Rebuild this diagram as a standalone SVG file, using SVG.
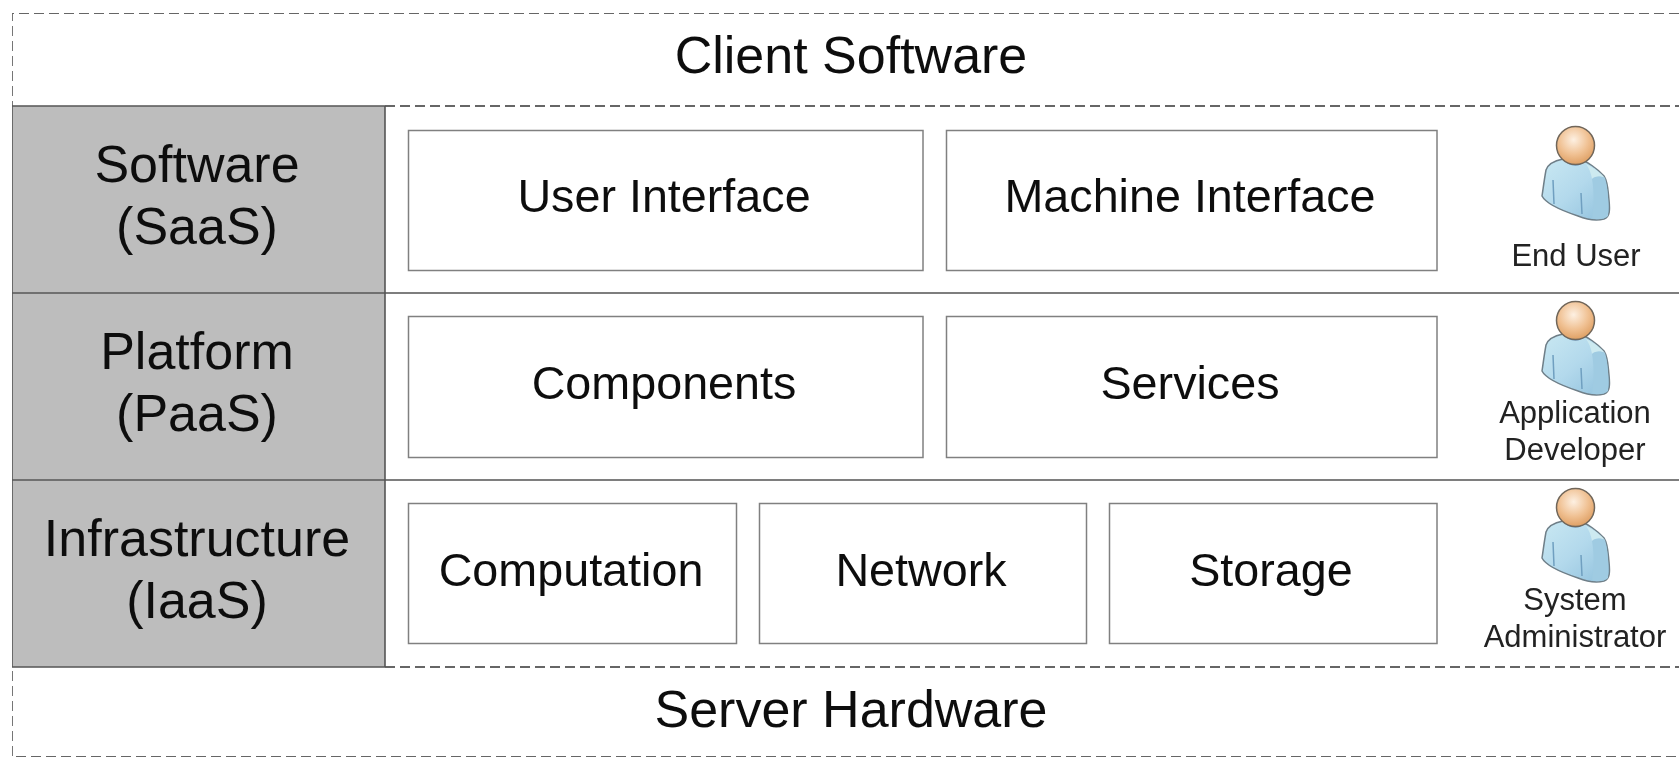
<svg xmlns="http://www.w3.org/2000/svg" width="1679" height="758" viewBox="0 0 1679 758">
<style>
text{font-family:"Liberation Sans",Arial,sans-serif;fill:#111;text-anchor:middle}
.h{font-size:52px}
.t{font-size:46.700px}
.s{font-size:31px;fill:#222}
.box{fill:#fff;stroke:#808080;stroke-width:1.5}
.dash{fill:none;stroke:#666;stroke-width:1.8;stroke-dasharray:10 5}
.line{fill:none;stroke:#555;stroke-width:1.6}
</style>
<defs>
<filter id="soft" x="0" y="0" width="1" height="1"><feGaussianBlur stdDeviation="0.7"/></filter>
<radialGradient id="head" cx="0.45" cy="0.35" r="0.7"><stop offset="0" stop-color="#fdf0e2"/><stop offset="0.55" stop-color="#f0c193"/><stop offset="1" stop-color="#dc9a5c"/></radialGradient>
<linearGradient id="body" x1="0" y1="0" x2="1" y2="1"><stop offset="0" stop-color="#c9e8f2"/><stop offset="0.5" stop-color="#b3d9ec"/><stop offset="1" stop-color="#8fc0dc"/></linearGradient>
<g id="person">
<path d="M1563 159C1553 161 1548 164 1546 170C1544 181 1543 190 1542 196C1546 204 1560 210 1578 216C1588 220 1596 221 1604 219C1610 217 1610 210 1609 200C1608 190 1608 182 1604 176C1597 168 1587 162 1582 160Z" fill="url(#body)" stroke="#6f7f88" stroke-width="1.5"/>
<path d="M1586 164C1594 168 1601 173 1605 178C1599 176 1596 176 1592 179C1591 173 1589 168 1586 164Z" fill="#cdeaf0"/>
<path d="M1592 179C1596 176 1600 176 1605 178C1608 188 1609 205 1608 216C1604 220 1596 220 1592 218C1594 205 1594 190 1592 179Z" fill="#9fcbe2"/>
<path d="M1553 180L1554 204M1581 193L1582 214" fill="none" stroke="#6f9fc0" stroke-width="1.5"/>
<path d="M1563 159C1570 164 1576 165 1585 161C1580 168 1568 167 1563 159Z" fill="#79a9cf"/>
<circle cx="1575.500" cy="145.500" r="19" fill="url(#head)" stroke="#70665a" stroke-width="1.5"/>
</g>
</defs>
<rect id="page" width="1679" height="758" fill="#fff"/>
<g filter="url(#soft)">
<g id="frame">
<path class="dash" d="M1679 13H12V757H1679"/>
<rect x="12" y="106" width="373" height="561" fill="#bdbdbd"/>
<path class="dash" d="M385 106H1679M385 667H1679"/>
<path class="line" d="M12 106H385M12 667H385M12 106V667M385 106V667M12 293H1679M12 480H1679"/>
</g>
<g id="client-software"><text class="h" x="851" y="73">Client Software</text></g>
<g id="server-hardware"><text class="h" x="851" y="727">Server Hardware</text></g>
<g id="saas"><text class="h" x="197" y="182">Software</text><text class="h" x="197" y="244">(SaaS)</text></g>
<g id="paas"><text class="h" x="197" y="369">Platform</text><text class="h" x="197" y="431">(PaaS)</text></g>
<g id="iaas"><text class="h" x="197" y="556">Infrastructure</text><text class="h" x="197" y="618">(IaaS)</text></g>
<g id="user-interface"><rect class="box" x="408.500" y="130.500" width="514.500" height="140"/><text class="t" x="664" y="212">User Interface</text></g>
<g id="machine-interface"><rect class="box" x="946.500" y="130.500" width="490.500" height="140"/><text class="t" x="1190" y="212">Machine Interface</text></g>
<g id="components"><rect class="box" x="408.500" y="316.500" width="514.500" height="141"/><text class="t" x="664" y="399">Components</text></g>
<g id="services"><rect class="box" x="946.500" y="316.500" width="490.500" height="141"/><text class="t" x="1190" y="399">Services</text></g>
<g id="computation"><rect class="box" x="408.500" y="503.500" width="328" height="140"/><text class="t" x="571" y="586">Computation</text></g>
<g id="network"><rect class="box" x="759.500" y="503.500" width="327" height="140"/><text class="t" x="921" y="586">Network</text></g>
<g id="storage"><rect class="box" x="1109.500" y="503.500" width="327.500" height="140"/><text class="t" x="1271" y="586">Storage</text></g>
<g id="end-user"><use href="#person"/><text class="s" x="1576" y="266">End User</text></g>
<g id="application-developer"><use href="#person" y="175"/><text class="s" x="1575" y="423">Application</text><text class="s" x="1575" y="460">Developer</text></g>
<g id="system-administrator"><use href="#person" y="362"/><text class="s" x="1575" y="610">System</text><text class="s" x="1575" y="647">Administrator</text></g>
</g>
</svg>
